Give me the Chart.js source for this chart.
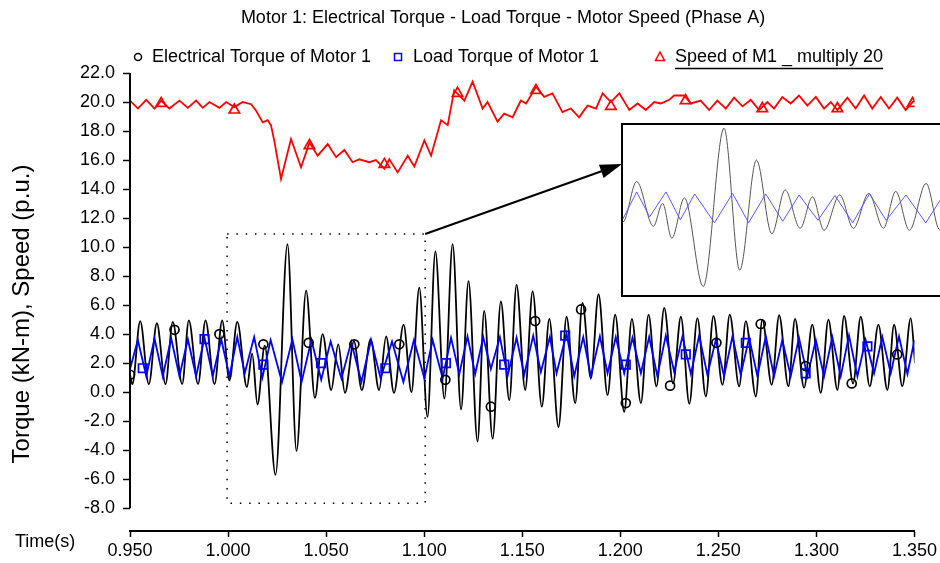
<!DOCTYPE html>
<html>
<head>
<meta charset="utf-8">
<script src="https://cdn.jsdelivr.net/npm/chart.js"></script>
<style>
  body { margin: 0; background: #fff; overflow: hidden; }
  #wrap { position: relative; width: 940px; height: 563px; overflow: hidden; }
  #chart { position: absolute; left: 0; top: 0; }
  #zoomBox { position: absolute; left: 621px; top: 123px; width: 345px; height: 174px;
             border: 2px solid #000; box-sizing: border-box; background: #fff; }
  #zoom { display: block; }
</style>
</head>
<body>
<div id="wrap">
  <canvas id="chart" width="940" height="563"></canvas>
  <div id="zoomBox"><canvas id="zoom" width="341" height="170"></canvas></div>
</div>
<script>
// Electrical torque of motor 1 (kN-m), read at each peak / trough
var torqueTime = [0.9500, 0.9512, 0.9552, 0.9596, 0.9637, 0.9681, 0.9718, 0.9766, 0.9800, 0.9847,
  0.9885, 0.9931, 0.9970, 1.0007, 1.0047, 1.0096, 1.0123, 1.0150, 1.0187, 1.0242,
  1.0303, 1.0349, 1.0398, 1.0443, 1.0482, 1.0526, 1.0562, 1.0596, 1.0642, 1.0682,
  1.0727, 1.0770, 1.0806, 1.0846, 1.0895, 1.0935, 1.0975, 1.1017, 1.1057, 1.1103,
  1.1145, 1.1188, 1.1226, 1.1272, 1.1306, 1.1349, 1.1391, 1.1434, 1.1471, 1.1515,
  1.1553, 1.1600, 1.1638, 1.1685, 1.1726, 1.1770, 1.1807, 1.1850, 1.1889, 1.1935,
  1.1974, 1.2020, 1.2059, 1.2105, 1.2144, 1.2184, 1.2224, 1.2269, 1.2309, 1.2352,
  1.2393, 1.2436, 1.2475, 1.2521, 1.2558, 1.2606, 1.2640, 1.2691, 1.2724, 1.2772,
  1.2810, 1.2857, 1.2891, 1.2937, 1.2979, 1.3022, 1.3061, 1.3107, 1.3141, 1.3187,
  1.3226, 1.3272, 1.3316, 1.3362, 1.3396, 1.3438, 1.3481, 1.3503];
var torqueValues = [1.2, 0.55, 4.9, 0.55, 4.75, 0.55, 4.85, 0.55, 4.95, 0.55,
  4.95, 0.55, 4.95, 0.8, 4.85, 0.35, 2.65, -0.85, 3.2, -5.7,
  10.2, -4.05, 7.0, -0.4, 4.0, 0.15, 3.3, -0.05, 3.5, 0.15,
  3.65, 0.15, 3.85, -0.05, 4.65, 0.0, 7.2, -1.7, 9.7, -0.45,
  10.2, -1.2, 7.65, -3.4, 5.6, -3.2, 6.25, -0.55, 7.4, 0.15,
  6.95, -1.0, 5.05, -2.4, 5.2, -0.75, 6.15, 0.95, 6.75, -0.2,
  5.35, -1.35, 5.05, -0.75, 5.35, 0.4, 5.8, 0.6, 5.2, -0.8,
  5.1, -0.3, 5.25, 0.5, 5.35, 0.4, 4.9, -0.3, 5.0, 0.5,
  5.3, 0.4, 5.05, 0.3, 4.65, -0.05, 5.0, 0.15, 5.25, 0.6,
  5.2, 0.4, 4.65, 0.15, 4.65, 0.4, 5.1, 2.0];

// Load torque of motor 1 (kN-m)
var loadTime = [0.9500, 0.9540, 0.9583, 0.9625, 0.9667, 0.9710, 0.9752, 0.9795, 0.9837, 0.9880,
  0.9922, 0.9965, 1.0007, 1.0047, 1.0085, 1.0133, 1.0175, 1.0217, 1.0275, 1.0328,
  1.0375, 1.0425, 1.0475, 1.0523, 1.0578, 1.0628, 1.0680, 1.0729, 1.0778, 1.0836,
  1.0894, 1.0948, 1.1001, 1.1043, 1.1094, 1.1137, 1.1179, 1.1221, 1.1260, 1.1301,
  1.1340, 1.1386, 1.1425, 1.1471, 1.1510, 1.1556, 1.1595, 1.1641, 1.1675, 1.1726,
  1.1765, 1.1811, 1.1850, 1.1896, 1.1935, 1.1977, 1.2020, 1.2062, 1.2105, 1.2147,
  1.2189, 1.2232, 1.2275, 1.2317, 1.2360, 1.2402, 1.2444, 1.2487, 1.2529, 1.2572,
  1.2614, 1.2657, 1.2699, 1.2742, 1.2784, 1.2826, 1.2869, 1.2911, 1.2954, 1.2997,
  1.3039, 1.3081, 1.3124, 1.3166, 1.3209, 1.3251, 1.3294, 1.3336, 1.3379, 1.3421,
  1.3464, 1.3500];
var loadValues = [1.6, 3.6, 1.1, 3.7, 1.1, 3.7, 1.1, 3.65, 1.1, 3.75,
  1.1, 3.65, 1.1, 3.8, 1.3, 3.8, 1.0, 3.6, 0.7, 3.65,
  0.7, 3.6, 0.85, 3.5, 0.95, 3.45, 0.7, 3.6, 0.95, 3.5,
  0.7, 3.6, 0.95, 3.6, 0.95, 3.75, 1.25, 3.85, 1.25, 3.8,
  1.6, 3.8, 1.1, 3.75, 1.2, 3.9, 1.4, 3.8, 1.3, 4.05,
  1.1, 3.8, 1.1, 3.85, 1.3, 3.8, 1.3, 3.75, 1.3, 3.8,
  1.1, 3.9, 1.4, 3.85, 1.25, 3.9, 1.2, 3.6, 1.1, 3.85,
  1.2, 3.75, 1.1, 3.85, 1.1, 3.6, 1.1, 3.75, 1.1, 3.6,
  1.1, 3.8, 1.1, 3.9, 1.1, 3.6, 1.3, 3.8, 1.3, 3.85,
  1.25, 3.6];

// Speed of M1 multiplied by 20 (p.u.)
var speedTime = [0.9500, 0.9540, 0.9583, 0.9625, 0.9659, 0.9701, 0.9752, 0.9795, 0.9837, 0.9871,
  0.9905, 0.9956, 0.9990, 1.0032, 1.0075, 1.0118, 1.0143, 1.0177, 1.0202, 1.0219,
  1.0236, 1.0270, 1.0321, 1.0372, 1.0415, 1.0457, 1.0508, 1.0551, 1.0593, 1.0635,
  1.0669, 1.0720, 1.0754, 1.0797, 1.0822, 1.0865, 1.0916, 1.0950, 1.1001, 1.1035,
  1.1086, 1.1120, 1.1153, 1.1205, 1.1247, 1.1298, 1.1323, 1.1374, 1.1408, 1.1451,
  1.1493, 1.1520, 1.1570, 1.1612, 1.1654, 1.1705, 1.1748, 1.1790, 1.1833, 1.1876,
  1.1910, 1.1952, 1.1995, 1.2046, 1.2088, 1.2130, 1.2173, 1.2207, 1.2249, 1.2275,
  1.2325, 1.2360, 1.2410, 1.2453, 1.2495, 1.2538, 1.2580, 1.2623, 1.2665, 1.2708,
  1.2750, 1.2784, 1.2826, 1.2869, 1.2911, 1.2954, 1.2997, 1.3039, 1.3073, 1.3107,
  1.3158, 1.3200, 1.3243, 1.3285, 1.3328, 1.3370, 1.3412, 1.3455, 1.3497];
var speedValues = [20.1, 19.55, 20.15, 19.55, 20.1, 19.55, 20.1, 19.6, 20.1, 19.6,
  20.0, 19.6, 20.0, 19.65, 20.0, 19.85, 19.4, 18.6, 18.75, 18.4,
  17.3, 14.7, 17.45, 15.5, 17.2, 16.3, 17.1, 16.2, 16.7, 15.85,
  16.05, 15.85, 16.0, 15.4, 16.05, 15.15, 16.3, 15.55, 17.35, 16.3,
  18.75, 18.4, 20.8, 20.1, 21.4, 19.55, 20.0, 18.65, 19.2, 18.95,
  20.1, 19.9, 21.05, 20.35, 20.6, 19.3, 19.55, 18.95, 19.75, 19.55,
  20.6, 20.0, 20.6, 19.45, 19.9, 19.45, 20.0, 19.9, 20.15, 20.45,
  20.45, 19.9, 20.1, 19.45, 20.1, 19.55, 20.3, 19.7, 20.15, 19.45,
  20.0, 19.55, 20.35, 19.9, 20.45, 19.75, 20.35, 19.55, 20.0, 19.45,
  20.3, 19.55, 20.45, 19.55, 20.35, 19.55, 20.3, 19.45, 20.1];

// marker symbols along each curve
var torqueMarkTime = [0.9500, 0.9727, 0.9956, 1.0180, 1.0411, 1.0644, 1.0873, 1.1108, 1.1340,
  1.1566, 1.1800, 1.2028, 1.2254, 1.2490, 1.2716, 1.2945, 1.3180, 1.3412];
var torqueMarkValues = [1.2, 4.3, 4.0, 3.3, 3.4, 3.3, 3.3, 0.85, -1.0,
  4.9, 5.7, -0.75, 0.45, 3.4, 4.7, 1.8, 0.6, 2.6];
var loadMarkTime = [0.9565, 0.9880, 1.0180, 1.0474, 1.0802, 1.1111, 1.1408, 1.1719, 1.2028,
  1.2334, 1.2640, 1.2945, 1.3260];
var loadMarkValues = [1.65, 3.65, 1.9, 2.0, 1.65, 2.0, 1.9, 3.9, 1.9, 2.6, 3.4, 1.3, 3.15];
var speedMarkTime = [0.9659, 1.0032, 1.0415, 1.0797, 1.1170, 1.1570, 1.1952, 1.2333, 1.2724,
  1.3107, 1.3490];
var speedMarkValues = [19.9, 19.45, 17.0, 15.7, 20.6, 20.8, 19.7, 20.1, 19.55, 19.55, 19.9];

var xTicks = [0.95, 1.0, 1.05, 1.1, 1.15, 1.2, 1.25, 1.3, 1.35];
var yTicks = [-8, -6, -4, -2, 0, 2, 4, 6, 8, 10, 12, 14, 16, 18, 20, 22];

// window of the zoomed view (dotted box) in data units
var zoomT = [0.9995, 1.1005];
var zoomV = [-7.65, 10.9];

var seriesNames = ['Electrical Torque of Motor 1', 'Load Torque of Motor 1', 'Speed of M1 _ multiply 20'];
var chartTitle = 'Motor 1: Electrical Torque - Load Torque - Motor Speed (Phase A)';
var yTitle = 'Torque (kN-m), Speed (p.u.)';
var xTitle = 'Time(s)';

var FONT = '"Liberation Sans", Arial, sans-serif';

function pts(ts, vs) {
  return ts.map(function (t, i) { return { x: t, y: vs[i] }; });
}

function marker(ctx, style, x, y, color) {
  ctx.strokeStyle = color;
  ctx.lineWidth = 1.5;
  ctx.beginPath();
  if (style === 'circle') {
    ctx.arc(x, y, 3.5, 0, Math.PI * 2);
  } else if (style === 'rect') {
    ctx.rect(x - 3.5, y - 3.5, 7, 7);
  } else {
    ctx.moveTo(x, y - 5);
    ctx.lineTo(x + 4.5, y + 3.5);
    ctx.lineTo(x - 4.5, y + 3.5);
    ctx.closePath();
  }
  ctx.stroke();
}

var decorations = {
  id: 'decorations',
  afterDraw: function (chart) {
    var ctx = chart.ctx, xs = chart.scales.x, ys = chart.scales.y, area = chart.chartArea;
    ctx.save();

    // y axis line only between -8 and 22
    ctx.strokeStyle = '#000';
    ctx.lineWidth = 2;
    ctx.beginPath();
    ctx.moveTo(area.left, ys.getPixelForValue(yTicks[0]));
    ctx.lineTo(area.left, ys.getPixelForValue(yTicks[yTicks.length - 1]));
    ctx.stroke();

    ctx.fillStyle = '#000';
    ctx.font = '18px ' + FONT;
    ctx.textBaseline = 'middle';
    ctx.textAlign = 'center';
    ctx.fillText(chartTitle, 503, 18);

    // legend
    ctx.textAlign = 'left';
    var legend = [
      { style: 'circle', color: '#000', mx: 138, tx: 152 },
      { style: 'rect', color: '#0000ff', mx: 398, tx: 413 },
      { style: 'triangle', color: '#ff0000', mx: 660, tx: 675 }
    ];
    legend.forEach(function (it, i) {
      marker(ctx, it.style, it.mx, 57, it.color);
      ctx.fillStyle = '#000';
      ctx.fillText(seriesNames[i], it.tx, 57);
    });
    var w = ctx.measureText(seriesNames[2]).width;
    ctx.strokeStyle = '#000';
    ctx.lineWidth = 1.5;
    ctx.beginPath();
    ctx.moveTo(675, 68.5);
    ctx.lineTo(675 + w, 68.5);
    ctx.stroke();

    ctx.fillText(xTitle, 15, 542);

    ctx.save();
    ctx.translate(22, 314);
    ctx.rotate(-Math.PI / 2);
    ctx.textAlign = 'center';
    ctx.font = '24px ' + FONT;
    ctx.fillText(yTitle, 0, 0);
    ctx.restore();

    // dotted zoom window
    var x0 = xs.getPixelForValue(zoomT[0]), x1 = xs.getPixelForValue(zoomT[1]);
    var y0 = ys.getPixelForValue(zoomV[1]), y1 = ys.getPixelForValue(zoomV[0]);
    ctx.setLineDash([1.5, 7.8]);
    ctx.lineWidth = 1.5;
    ctx.strokeRect(x0, y0, x1 - x0, y1 - y0);
    ctx.setLineDash([]);

    // arrow to the zoomed view
    var ax = 622, ay = 164;
    var ang = Math.atan2(ay - y0, ax - x1);
    ctx.lineWidth = 2;
    ctx.beginPath();
    ctx.moveTo(x1, y0);
    ctx.lineTo(ax - 18 * Math.cos(ang), ay - 18 * Math.sin(ang));
    ctx.stroke();
    ctx.beginPath();
    ctx.moveTo(ax, ay);
    ctx.lineTo(ax - 22 * Math.cos(ang) + 7 * Math.sin(ang), ay - 22 * Math.sin(ang) - 7 * Math.cos(ang));
    ctx.lineTo(ax - 22 * Math.cos(ang) - 7 * Math.sin(ang), ay - 22 * Math.sin(ang) + 7 * Math.cos(ang));
    ctx.closePath();
    ctx.fill();

    ctx.restore();
  }
};

var markerSet = function (ts, vs, style, color, order) {
  return {
    data: pts(ts, vs), showLine: false, pointStyle: style,
    pointRadius: style === 'circle' ? 4.5 : 6, pointBorderWidth: 1.7,
    pointBorderColor: color, pointBackgroundColor: 'rgba(0,0,0,0)', order: order
  };
};

new Chart(document.getElementById('chart'), {
  type: 'line',
  data: {
    datasets: [
      { label: seriesNames[0], data: pts(torqueTime, torqueValues), borderColor: '#000', borderWidth: 1.8,
        pointRadius: 0, cubicInterpolationMode: 'monotone', order: 5 },
      { label: seriesNames[1], data: pts(loadTime, loadValues), borderColor: '#0000ff', borderWidth: 1.8,
        pointRadius: 0, tension: 0, order: 4 },
      { label: seriesNames[2], data: pts(speedTime, speedValues), borderColor: '#ff0000', borderWidth: 1.8,
        pointRadius: 0, tension: 0, order: 3 },
      markerSet(torqueMarkTime, torqueMarkValues, 'circle', '#000', 2),
      markerSet(loadMarkTime, loadMarkValues, 'rect', '#0000ff', 1),
      markerSet(speedMarkTime, speedMarkValues, 'triangle', '#ff0000', 0)
    ]
  },
  options: {
    responsive: false,
    animation: false,
    devicePixelRatio: 1,
    layout: { padding: { left: 0, top: 73, right: 24.5, bottom: 0 } },
    plugins: { legend: { display: false }, tooltip: { enabled: false } },
    scales: {
      x: {
        type: 'linear', min: 0.95, max: 1.35,
        afterBuildTicks: function (s) { s.ticks = xTicks.map(function (v) { return { value: v }; }); },
        afterFit: function (s) { s.height = 32; },
        ticks: { callback: function (v) { return v.toFixed(3); }, color: '#000', font: { family: FONT, size: 18 },
                 maxRotation: 0, autoSkip: false, padding: 3 },
        grid: { drawOnChartArea: false, tickLength: 6, tickColor: '#000', tickWidth: 1.5 },
        border: { display: true, color: '#000', width: 2 }
      },
      y: {
        min: -9.57, max: 22,
        afterBuildTicks: function (s) { s.ticks = yTicks.map(function (v) { return { value: v }; }); },
        afterFit: function (s) { s.width = 130; },
        ticks: { callback: function (v) { return v.toFixed(1); }, color: '#000', font: { family: FONT, size: 18 },
                 padding: 8 },
        grid: { drawOnChartArea: false, tickLength: 7, tickColor: '#000', tickWidth: 1.5 },
        border: { display: false }
      }
    }
  },
  plugins: [decorations]
});

// zoomed view of the disturbance window
new Chart(document.getElementById('zoom'), {
  type: 'line',
  data: {
    datasets: [
      { data: pts(loadTime, loadValues), borderColor: '#5a5aff', borderWidth: 1, pointRadius: 0, tension: 0 },
      { data: pts(torqueTime, torqueValues), borderColor: '#555', borderWidth: 1, pointRadius: 0,
        cubicInterpolationMode: 'monotone' }
    ]
  },
  options: {
    responsive: false,
    animation: false,
    devicePixelRatio: 1,
    layout: { padding: 0 },
    plugins: { legend: { display: false }, tooltip: { enabled: false } },
    scales: {
      x: { type: 'linear', display: false, min: 1.0007, max: 1.1006 },
      y: { display: false, min: -6.55, max: 10.52 }
    }
  }
});
</script>
</body>
</html>
